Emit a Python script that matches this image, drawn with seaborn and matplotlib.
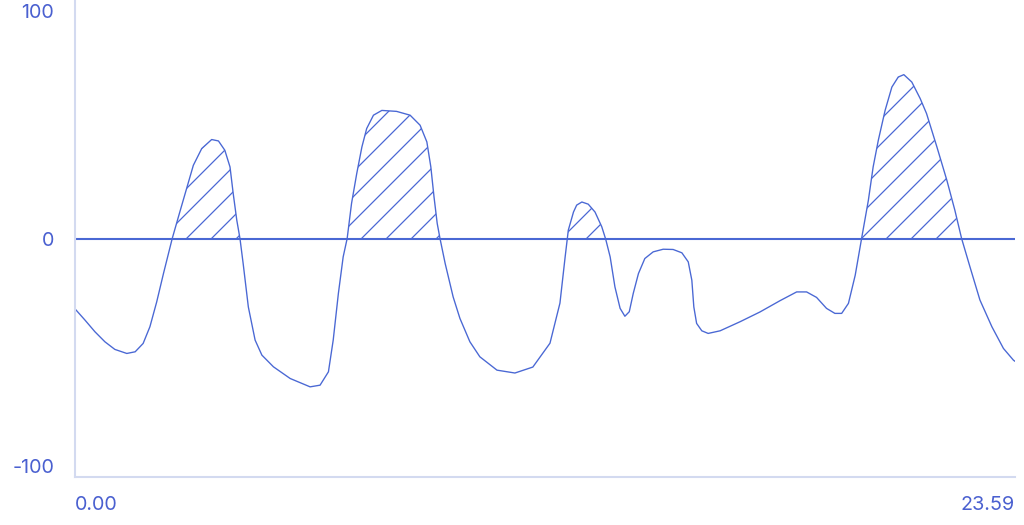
'''
Smooth daily signal over 24 hours, with the parts above zero hatched.
'''

import matplotlib
matplotlib.use("Agg")
import matplotlib.pyplot as plt
import matplotlib.transforms as mtransforms
import seaborn as sns

# values
hours = [
    0.00, 0.25, 0.50, 0.75, 1.00, 1.30, 1.51, 1.71, 1.88, 2.05, 2.22, 2.44,
    2.63, 2.80, 2.97, 3.18, 3.43, 3.60, 3.76, 3.89, 3.97, 4.06, 4.14, 4.22,
    4.35, 4.52, 4.69, 4.98, 5.40, 5.90, 6.15, 6.36, 6.48, 6.61, 6.73, 6.83,
    6.94, 7.07, 7.20, 7.32, 7.49, 7.70, 8.07, 8.41, 8.66, 8.83, 8.93, 9.01,
    9.09, 9.16, 9.29, 9.49, 9.66, 9.91, 10.16, 10.59, 11.04, 11.49, 11.92,
    12.17, 12.30, 12.38, 12.51, 12.59, 12.72, 12.88, 13.05, 13.22, 13.32,
    13.43, 13.55, 13.68, 13.80, 13.91, 14.01, 14.14, 14.30, 14.51, 14.76,
    15.01, 15.23, 15.39, 15.48, 15.53, 15.60, 15.73, 15.89, 16.19, 16.69,
    17.19, 17.69, 18.11, 18.36, 18.61, 18.86, 19.07, 19.24, 19.41, 19.58,
    19.74, 19.91, 20.03, 20.16, 20.33, 20.50, 20.66, 20.80, 21.00, 21.21,
    21.37, 21.63, 21.88, 22.08, 22.25, 22.46, 22.71, 23.01, 23.30, 23.55,
    23.59,
]
values = [
    -29.5, -34.2, -39.1, -43.3, -46.5, -48.2, -47.5, -44.0, -37.0, -26.6,
    -14.7, 0.0, 11.1, 20.9, 30.7, 37.7, 41.5, 40.9, 37.0, 30.0, 18.9, 7.7,
    0.0, -10.5, -28.7, -42.6, -48.9, -53.8, -58.7, -62.2, -61.5, -55.9,
    -42.6, -23.0, -7.7, 0.0, 14.7, 27.2, 38.4, 46.1, 51.7, 53.7, 53.3, 51.7,
    47.5, 40.5, 30.0, 17.4, 6.3, 0.0, -10.5, -24.5, -33.5, -43.3, -49.6,
    -55.2, -56.4, -53.9, -43.9, -27.1, -7.8, 3.5, 11.1, 14.0, 15.3, 14.4,
    11.1, 4.9, -0.4, -7.7, -20.3, -29.3, -32.6, -30.7, -23.0, -14.7, -8.4,
    -5.6, -4.5, -4.6, -6.0, -9.8, -17.5, -28.7, -35.6, -38.7, -39.8, -38.7,
    -34.9, -30.8, -26.1, -22.4, -22.4, -24.7, -29.3, -31.4, -31.4, -27.2,
    -15.4, 0.0, 16.0, 30.0, 41.2, 53.7, 63.5, 67.7, 68.7, 65.6, 58.7, 52.4,
    38.4, 24.4, 11.9, 0.0, -11.9, -25.8, -37.0, -46.1, -51.0, -51.5,
]
y_ticks = [-100, 0, 100]
x_ticks = [0.00, 23.59]
x_labels = ["0.00", "23.59"]

BLUE = "#4a68d4"
TEXT = "#4a60d0"
AXIS = "#d3daf0"


def main():
    sns.set_style("white")
    plt.rcParams["font.family"] = ["Inter", "DejaVu Sans"]
    plt.rcParams["hatch.linewidth"] = 0.6

    fig = plt.figure(figsize=(1024 / 150, 525 / 150), dpi=150)
    ax = fig.add_axes([75 / 1024, 48 / 525, 940 / 1024, 477 / 525])

    sns.lineplot(x=hours, y=values, ax=ax, color=BLUE, linewidth=0.65)
    ax.fill_between(hours, 0, values, where=[v > 0 for v in values],
                    interpolate=True, facecolor="none", edgecolor=BLUE,
                    hatch="//", linewidth=0)
    ax.axhline(0, color=BLUE, linewidth=1.0)

    ax.set_xlim(x_ticks[0], x_ticks[-1])
    ax.set_ylim(-100, 100)

    for side in ["top", "right"]:
        ax.spines[side].set_visible(False)
    for side in ["left", "bottom"]:
        ax.spines[side].set_color(AXIS)
        ax.spines[side].set_linewidth(1.0)

    ax.set_yticks(y_ticks)
    ax.set_yticklabels([str(t) for t in y_ticks])
    ax.set_xticks(x_ticks)
    ax.set_xticklabels(x_labels)
    ax.tick_params(axis="y", length=0, pad=10, labelsize=9.5,
                   labelcolor=TEXT)
    ax.tick_params(axis="x", length=0, pad=9, labelsize=9.5,
                   labelcolor=TEXT)

    # keep the end labels inside the picture
    ylabels = ax.get_yticklabels()
    ylabels[-1].set_va("top")
    shift = mtransforms.ScaledTranslation(0, -4 / 150, fig.dpi_scale_trans)
    ylabels[-1].set_transform(ylabels[-1].get_transform() + shift)
    ylabels[0].set_va("bottom")
    xlabels = ax.get_xticklabels()
    xlabels[0].set_ha("left")
    xlabels[-1].set_ha("right")

    ax.set_xlabel("")
    ax.set_ylabel("")
    fig.savefig("out.png", dpi=150)


if __name__ == "__main__":
    main()
